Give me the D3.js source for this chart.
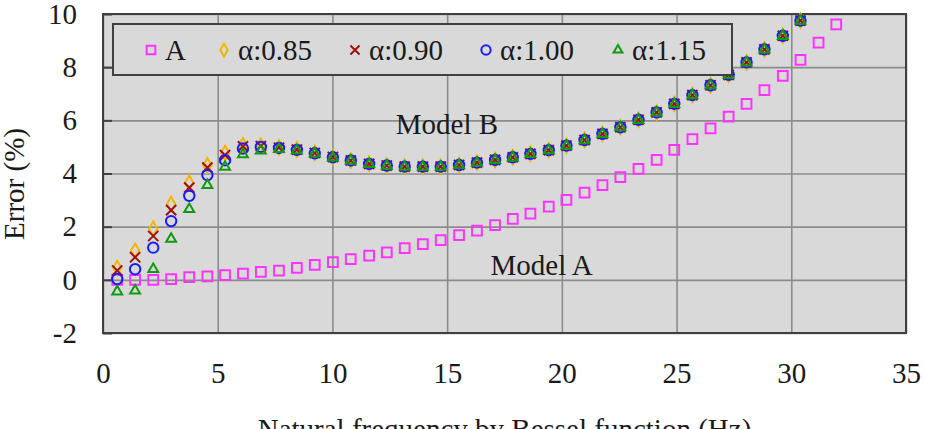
<!DOCTYPE html>
<html>
<head>
<meta charset="utf-8">
<script src="https://cdn.jsdelivr.net/npm/d3@7"></script>
<style>
  body { margin: 0; background: #fff; }
</style>
</head>
<body>
<div id="chart-area"></div>
<script>
const freq = [0.62, 1.40, 2.19, 2.97, 3.76, 4.55, 5.32, 6.10, 6.88, 7.67, 8.45, 9.23, 10.02, 10.80,
  11.60, 12.37, 13.15, 13.94, 14.72, 15.52, 16.30, 17.09, 17.86, 18.63, 19.43, 20.20, 20.99, 21.77,
  22.55, 23.34, 24.13, 24.90, 25.69, 26.48, 27.27, 28.05, 28.83, 29.63, 30.40, 31.19, 31.96];

const modelA = [0.0, 0.0, 0.0, 0.03, 0.1, 0.13, 0.18, 0.23, 0.3, 0.35, 0.45, 0.56, 0.67, 0.78,
  0.91, 1.03, 1.19, 1.34, 1.49, 1.68, 1.85, 2.06, 2.29, 2.49, 2.75, 3.01, 3.28, 3.56, 3.86, 4.17,
  4.51, 4.89, 5.29, 5.70, 6.14, 6.62, 7.14, 7.67, 8.27, 8.92, 9.61];

const alpha085 = [0.45, 1.10, 1.92, 2.85, 3.65, 4.31, 4.77, 5.06, 5.05, 4.98, 4.90, 4.77, 4.62, 4.49,
  4.37, 4.30, 4.26, 4.26, 4.26, 4.32, 4.41, 4.51, 4.61, 4.74, 4.88, 5.05, 5.26, 5.49, 5.74, 6.02,
  6.30, 6.62, 6.95, 7.32, 7.71, 8.18, 8.67, 9.18, 9.75];
const alpha090 = [0.35, 0.85, 1.65, 2.62, 3.47, 4.22, 4.69, 5.02, 5.03, 4.97, 4.90, 4.77, 4.62, 4.49,
  4.36, 4.30, 4.26, 4.26, 4.26, 4.32, 4.41, 4.51, 4.61, 4.74, 4.88, 5.05, 5.26, 5.49, 5.74, 6.02,
  6.30, 6.62, 6.95, 7.32, 7.71, 8.18, 8.67, 9.18, 9.75];
const alpha100 = [0.03, 0.40, 1.21, 2.21, 3.16, 3.94, 4.50, 4.94, 5.00, 4.96, 4.89, 4.76, 4.61, 4.49,
  4.36, 4.30, 4.26, 4.26, 4.26, 4.32, 4.41, 4.51, 4.61, 4.74, 4.88, 5.05, 5.26, 5.49, 5.74, 6.02,
  6.30, 6.62, 6.95, 7.32, 7.71, 8.18, 8.67, 9.18, 9.75];
const alpha115 = [-0.44, -0.41, 0.40, 1.54, 2.66, 3.56, 4.25, 4.72, 4.86, 4.92, 4.87, 4.75, 4.60, 4.48,
  4.35, 4.29, 4.25, 4.25, 4.25, 4.31, 4.40, 4.50, 4.60, 4.73, 4.87, 5.04, 5.25, 5.48, 5.73, 6.01,
  6.29, 6.61, 6.94, 7.31, 7.70, 8.17, 8.66, 9.17, 9.74];

const seriesNames = ["A", "α:0.85", "α:0.90", "α:1.00", "α:1.15"];
const xTicks = [0, 5, 10, 15, 20, 25, 30, 35];
const yTicks = [-2, 0, 2, 4, 6, 8, 10];

const FONT = "'Liberation Serif', Tinos, 'Times New Roman', 'DejaVu Serif', serif";

const margin = { left: 103, right: 19, top: 14, bottom: 96 };
const W = 925, H = 429;
const width = W - margin.left - margin.right;
const height = H - margin.top - margin.bottom;

const svg = d3.select("#chart-area")
    .append("svg")
    .attr("width", W)
    .attr("height", H)
    .style("font-family", FONT);

const g = svg.append("g")
    .attr("transform", `translate(${margin.left}, ${margin.top})`);

const x = d3.scaleLinear().domain([0, 35]).range([0, width]);
const y = d3.scaleLinear().domain([-2, 10]).range([height, 0]);

g.append("rect")
    .attr("width", width)
    .attr("height", height)
    .attr("fill", "#d9d9d9");

// gridlines
g.append("g")
    .attr("transform", `translate(0, ${height})`)
    .call(d3.axisBottom(x).tickValues(xTicks).tickSize(-height).tickFormat(""))
    .call(a => a.select(".domain").remove())
    .selectAll("line").attr("stroke", "#8c8c8c").attr("stroke-width", 1.6);

g.append("g")
    .call(d3.axisLeft(y).tickValues(yTicks).tickSize(-width).tickFormat(""))
    .call(a => a.select(".domain").remove())
    .selectAll("line").attr("stroke", "#8c8c8c").attr("stroke-width", 1.6);

// short inside ticks on the y axis
g.append("g")
    .call(d3.axisLeft(y).tickValues(yTicks).tickSize(-9).tickFormat(""))
    .call(a => a.select(".domain").remove())
    .selectAll("line").attr("stroke", "#404040").attr("stroke-width", 2);

// tick labels
g.append("g")
    .attr("transform", `translate(0, ${height})`)
    .call(d3.axisBottom(x).tickValues(xTicks).tickSize(0).tickPadding(29).tickFormat(d => String(d)))
    .call(a => a.select(".domain").remove())
    .selectAll("text")
    .attr("font-size", "29px")
    .attr("fill", "#1a1a1a");

g.append("g")
    .call(d3.axisLeft(y).tickValues(yTicks).tickSize(0).tickPadding(26).tickFormat(d => String(d)))
    .call(a => a.select(".domain").remove())
    .selectAll("text")
    .attr("font-size", "29px")
    .attr("fill", "#1a1a1a");

g.append("rect")
    .attr("width", width)
    .attr("height", height)
    .attr("fill", "none")
    .attr("stroke", "#404040")
    .attr("stroke-width", 2);

const styles = [
  { type: d3.symbolSquare, size: 95, color: "#ff33ff" },
  { type: d3.symbolDiamond, size: 60, color: "#f2b600" },
  { type: d3.symbolX, size: 70, color: "#a01010" },
  { type: d3.symbolCircle, size: 85, color: "#1a1aff" },
  { type: d3.symbolTriangle2, size: 70, color: "#119911" }
];

const allSeries = [modelA, alpha085, alpha090, alpha100, alpha115];

allSeries.forEach((vals, i) => {
  const st = styles[i];
  const sym = d3.symbol().type(st.type).size(st.size);
  g.append("g").selectAll("path")
      .data(vals.map((v, j) => ({ f: freq[j], v: v })))
      .enter()
      .append("path")
      .attr("d", sym)
      .attr("transform", d => `translate(${x(d.f)}, ${y(d.v)})`)
      .attr("fill", "none")
      .attr("stroke", st.color)
      .attr("stroke-width", 2);
});

// annotations
g.append("text")
    .attr("x", x(12.76))
    .attr("y", y(5.48))
    .attr("font-size", "29px")
    .text("Model B");

g.append("text")
    .attr("x", x(16.89))
    .attr("y", y(0.17))
    .attr("font-size", "29px")
    .text("Model A");

// legend
const legend = svg.append("g").attr("transform", "translate(113, 24)");
legend.append("rect")
    .attr("width", 619)
    .attr("height", 51)
    .attr("fill", "#d9d9d9")
    .attr("stroke", "#404040")
    .attr("stroke-width", 2);

const legendX = [38, 111, 242, 373, 505];
seriesNames.forEach((name, i) => {
  const st = styles[i];
  const item = legend.append("g").attr("transform", `translate(${legendX[i]}, 26)`);
  item.append("path")
      .attr("d", d3.symbol().type(st.type).size(st.size * 0.8))
      .attr("fill", "none")
      .attr("stroke", st.color)
      .attr("stroke-width", 2);
  item.append("text")
      .attr("x", 14)
      .attr("y", 10)
      .attr("font-size", "29px")
      .text(name);
});

// axis titles
svg.append("text")
    .attr("x", margin.left + width / 2)
    .attr("y", 439)
    .attr("text-anchor", "middle")
    .attr("font-size", "29px")
    .text("Natural frequency by Bessel function (Hz)");

svg.append("text")
    .attr("transform", "rotate(-90)")
    .attr("x", -184)
    .attr("y", 24)
    .attr("text-anchor", "middle")
    .attr("font-size", "29px")
    .text("Error (%)");

svg.selectAll("text")
    .style("font-family", FONT)
    .attr("fill", "#1a1a1a");
</script>
</body>
</html>
